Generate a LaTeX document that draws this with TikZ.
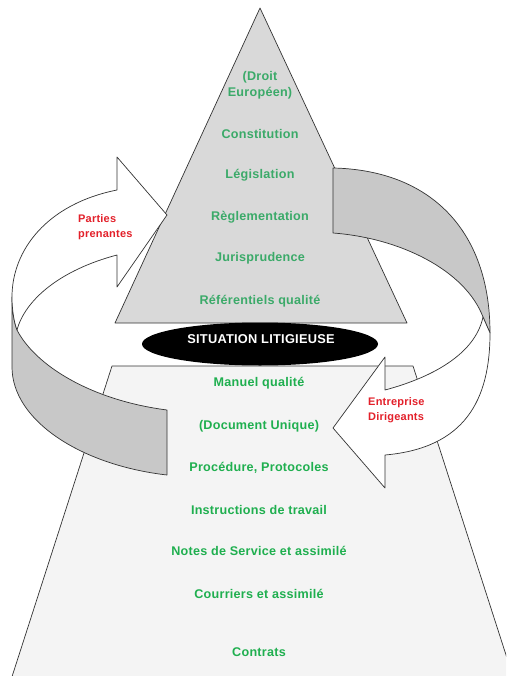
\documentclass[tikz,border=0pt]{standalone}
\usepackage{fontspec}
\usetikzlibrary{shapes.geometric}
\setmainfont{Liberation Sans}[LetterSpace=2]
\definecolor{pyrfill}{HTML}{D9D9D9}
\definecolor{trapfill}{HTML}{F4F4F4}
\definecolor{bandgray}{HTML}{C8C8C8}
\definecolor{edge}{HTML}{333333}
\definecolor{gtxt}{HTML}{3BAA69}
\definecolor{gtxtb}{HTML}{1FAF4F}
\definecolor{rtxt}{HTML}{E3202A}
\begin{document}
\begin{tikzpicture}[x=1pt,y=-1pt,
  shapeline/.style={draw=edge,line width=0.7pt,line join=round},
  lvl/.style={font=\bfseries\fontsize{12.6}{14}\selectfont,text=gtxt,inner sep=0pt},
  lvlb/.style={font=\bfseries\fontsize{12.6}{14}\selectfont,text=gtxtb,inner sep=0pt},
  actor/.style={font=\bfseries\fontsize{11}{15}\selectfont,text=rtxt,align=left,inner sep=0pt,anchor=west}]
\useasboundingbox (0,0) rectangle (506,676);
\fill[white] (0,0) rectangle (506,676);
% trapezoid (lower documents)
\begin{scope}
\clip (0,0) rectangle (506,676);
\path[shapeline,fill=trapfill] (112,366) -- (413,366) -- (516,686) -- (9,686) -- cycle;
\end{scope}
% pyramid
\path[shapeline,fill=pyrfill] (260,8) -- (407,323) -- (115,323) -- cycle;
% left arrow: gray back of band
\path[shapeline,fill=bandgray] (12,297) -- (12,367) .. controls (12,420) and (80,465) .. (167,475)
  -- (167,410) .. controls (90,400) and (35,365) .. (17,330) .. controls (14,322) and (12,310) .. (12,297) -- cycle;
% left arrow: white front with head
\path[shapeline,fill=white] (117,190) .. controls (47,204) and (12,250) .. (12,297)
  .. controls (12,310) and (14,322) .. (17,330)
  .. controls (25,300) and (60,270) .. (117,255)
  -- (117,287) -- (167,215) -- (117,157) -- cycle;
% right arrow: gray back of band
\path[shapeline,fill=bandgray] (333,168) .. controls (430,170) and (490,230) .. (490,333)
  -- (483,317) .. controls (465,270) and (400,238) .. (333,233) -- cycle;
% right arrow: white front with head
\path[shapeline,fill=white] (490,333) .. controls (490,400) and (465,448) .. (385,455)
  -- (385,488) -- (333,428) -- (385,357) -- (385,390)
  .. controls (430,378) and (475,355) .. (483,317) -- cycle;
% central ellipse
\node[ellipse,fill=black,minimum width=236pt,minimum height=43pt,inner sep=0pt] (sit) at (260,344) {};
\node[font=\bfseries\fontsize{12.8}{14}\selectfont,text=white,inner sep=0pt] (sitt) at (261,339) {SITUATION LITIGIEUSE};
% pyramid levels
\node[lvl] (droit) at (260,77) {(Droit};
\node[lvl] (europ) at (260,93) {Européen)};
\node[lvl] (const) at (260,134) {Constitution};
\node[lvl] (legis) at (260,175) {Législation};
\node[lvl] (regle) at (260,217) {Règlementation};
\node[lvl] (juris) at (260,258) {Jurisprudence};
\node[lvl] (refer) at (260,301) {Référentiels qualité};
% trapezoid levels
\node[lvlb] (manuel) at (259,383) {Manuel qualité};
\node[lvlb] (docu) at (259,426) {(Document Unique)};
\node[lvlb] (proc) at (259,468) {Procédure, Protocoles};
\node[lvlb] (instr) at (259,510) {Instructions de travail};
\node[lvlb] (notes) at (259,551) {Notes de Service et assimilé};
\node[lvlb] (cour) at (259,594) {Courriers et assimilé};
\node[lvlb] (contr) at (259,652) {Contrats};
% actors
\node[actor] (parties) at (78,227) {Parties\\prenantes};
\node[actor] (entre) at (368,410) {Entreprise\\Dirigeants};
\end{tikzpicture}
\end{document}
